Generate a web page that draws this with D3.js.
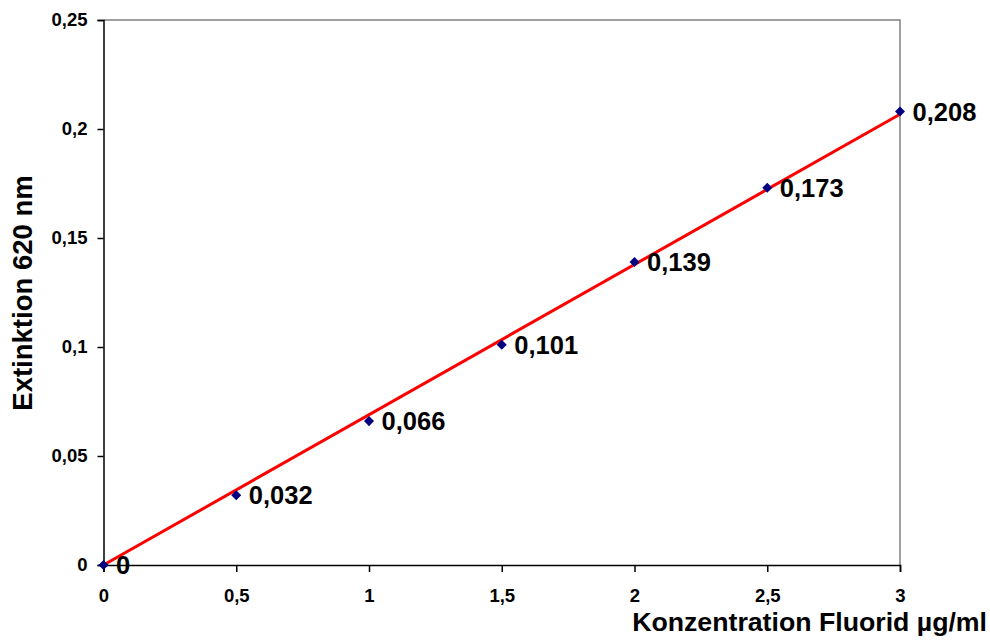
<!DOCTYPE html>
<html>
<head>
<meta charset="utf-8">
<script src="https://cdn.jsdelivr.net/npm/d3@7/dist/d3.min.js"></script>
<style>
  body { margin: 0; background: #fff; }
  svg text { font-family: "Liberation Sans", Arial, sans-serif; font-weight: bold; fill: #000; }
</style>
</head>
<body>
<div class="chart"></div>
<script>
var concentrations = [0, 0.5, 1, 1.5, 2, 2.5, 3];
var extinctions = [0, 0.032, 0.066, 0.101, 0.139, 0.173, 0.208];
var xTicks = [0, 0.5, 1, 1.5, 2, 2.5, 3];
var yTicks = [0, 0.05, 0.1, 0.15, 0.2, 0.25];

function comma(v) {
  return String(v).replace('.', ',');
}

function init() {
  var width = 990,
      height = 640,
      left = 103.5,
      right = 900,
      top = 20,
      bottom = 565;

  var svg = d3.select('.chart')
    .append('svg')
      .attr('width', width)
      .attr('height', height);

  var x = d3.scaleLinear().domain([0, 3]).range([left, right]);
  var y = d3.scaleLinear().domain([0, 0.25]).range([bottom, top]);

  // plot frame: grey on top and right
  svg.append('path')
      .attr('d', 'M' + left + ',' + top + 'H' + right + 'V' + bottom)
      .attr('fill', 'none')
      .attr('stroke', '#808080')
      .attr('stroke-width', 1.5);

  var yAxis = svg.append('g')
      .attr('transform', 'translate(' + left + ',0)')
      .call(d3.axisLeft(y).tickValues(yTicks).tickSize(6).tickPadding(10).tickFormat(comma));

  var xAxis = svg.append('g')
      .attr('transform', 'translate(0,' + bottom + ')')
      .call(d3.axisBottom(x).tickValues(xTicks).tickSize(7).tickPadding(17).tickFormat(comma));

  [xAxis, yAxis].forEach(function(a) {
    a.selectAll('path, line').attr('stroke', '#000').attr('stroke-width', 1.5);
    a.selectAll('text').style('font-size', '18.5px').style('font-family', '"Liberation Sans", Arial, sans-serif').style('font-weight', 'bold');
  });

  // linear trendline through origin
  var sxy = d3.sum(concentrations, function(c, i) { return c * extinctions[i]; });
  var sxx = d3.sum(concentrations, function(c) { return c * c; });
  var slope = sxy / sxx;

  svg.append('line')
      .attr('x1', x(0))
      .attr('y1', y(0))
      .attr('x2', x(3))
      .attr('y2', y(3 * slope))
      .attr('stroke', '#ff0000')
      .attr('stroke-width', 3);

  var points = concentrations.map(function(c, i) { return { x: c, y: extinctions[i] }; });

  svg.selectAll('path.point')
    .data(points)
    .enter()
    .append('path')
      .attr('class', 'point')
      .attr('d', d3.symbol().type(d3.symbolDiamond2).size(64))
      .attr('transform', function(d) { return 'translate(' + x(d.x) + ',' + y(d.y) + ')'; })
      .attr('fill', '#000080');

  svg.selectAll('text.label')
    .data(points)
    .enter()
    .append('text')
      .attr('class', 'label')
      .attr('x', function(d) { return x(d.x) + 12.5; })
      .attr('y', function(d) { return y(d.y); })
      .attr('dy', '0.36em')
      .style('font-size', '25.5px')
      .text(function(d) { return comma(d.y); });

  svg.append('text')
      .attr('x', 987)
      .attr('y', 631)
      .attr('text-anchor', 'end')
      .style('font-size', '26.7px')
      .text('Konzentration Fluorid µg/ml');

  svg.append('text')
      .attr('transform', 'translate(32,293) rotate(-90)')
      .attr('text-anchor', 'middle')
      .style('font-size', '27.5px')
      .text('Extinktion 620 nm');
}

d3.select(window).on('load', init);
</script>
</body>
</html>
